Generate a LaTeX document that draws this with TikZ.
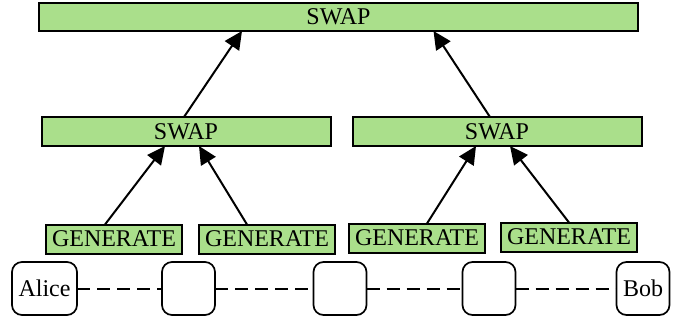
\documentclass[tikz,border=0pt]{standalone}
\usepackage{fontspec}
\setmainfont{Liberation Serif}
\usetikzlibrary{calc,arrows.meta}
\definecolor{opgreen}{RGB}{170,223,139}
\begin{document}
\begin{tikzpicture}[x=1pt,y=-1pt,
  every node/.style={font=\fontsize{24}{28}\selectfont, inner sep=0pt, outer sep=0pt},
  opbox/.style={draw=black, line width=2pt, fill=opgreen, minimum height=28pt},
  genbox/.style={opbox, minimum width=136pt, minimum height=29pt},
  qnode/.style={draw=black, line width=1.7pt, rounded corners=10pt, fill=white, minimum width=53pt, minimum height=53pt},
  up/.style={draw=black, line width=2pt, -{Triangle[length=18pt,width=17pt]}},
  link/.style={draw=black, line width=2pt, dash pattern=on 13pt off 7pt}]
\useasboundingbox (0,0) rectangle (683,322);
\fill[white] (0,0) rectangle (683,322);
% SWAP boxes
\node[opbox, minimum width=599pt] (top) at (338.5,17) {SWAP};
\node[opbox, minimum width=289pt, minimum height=29pt] (s1) at (186,131.5) {SWAP};
\node[opbox, minimum width=289pt, minimum height=29pt] (s2) at (497,131.5) {SWAP};
% GENERATE boxes
\node[genbox] (g1) at (114,239) {GENERATE};
\node[genbox] (g2) at (267,239) {GENERATE};
\node[genbox] (g3) at (417,238) {GENERATE};
\node[genbox] (g4) at (569,237) {GENERATE};
% quantum nodes
\node[qnode, minimum width=65pt] (alice) at (44.5,288.5) {Alice};
\node[qnode] (n2) at (188.5,288.5) {};
\node[qnode] (n3) at (340,288.5) {};
\node[qnode] (n4) at (489,288.5) {};
\node[qnode] (bob) at (643,288.5) {Bob};
% links
\draw[link] (alice.east) -- (n2.west);
\draw[link] (n2.east) -- (n3.west);
\draw[link] (n3.east) -- (n4.west);
\draw[link] (n4.east) -- (bob.west);
% arrows
\draw[up] ($(g1.north)+(-9,0)$) -- ($(s1.south)+(-21,0)$);
\draw[up] ($(g2.north)+(-20,0)$) -- ($(s1.south)+(13,0)$);
\draw[up] ($(g3.north)+(10,0)$) -- ($(s2.south)+(-21,0)$);
\draw[up] ($(g4.north)+(0,0)$) -- ($(s2.south)+(13,0)$);
\draw[up] ($(s1.north)+(-2,0)$) -- ($(top.south)+(-96.5,0)$);
\draw[up] ($(s2.north)+(-7,0)$) -- ($(top.south)+(95,0)$);
\end{tikzpicture}
\end{document}
